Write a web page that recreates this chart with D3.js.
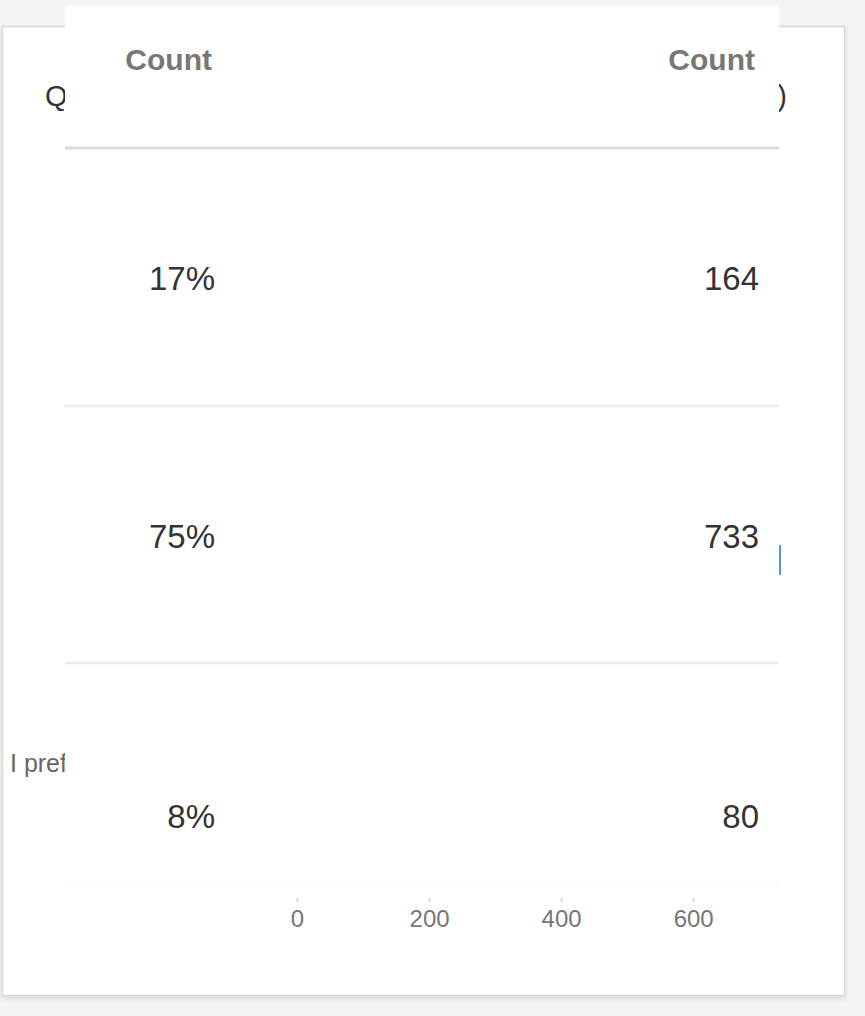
<!DOCTYPE html>
<html>
<head>
<meta charset="utf-8">
<script src="https://cdn.jsdelivr.net/npm/d3@7"></script>
<style>
  html, body { margin: 0; padding: 0; background: #f3f3f3; }
  svg { display: block; font-family: "Liberation Sans", Arial, Helvetica, sans-serif; }
</style>
</head>
<body>
<svg id="chart" width="865" height="1016"></svg>
<script>
// ---- data ----
const categories = ["Yes", "No", "I prefer not to say"];
const counts = [164, 733, 80];
const xTicks = [0, 200, 400, 600];
const headerLabels = ["Count", "Count"];
const titleText = "Q2. Would you recommend this service? (n=977)";

const total = d3.sum(counts);
const pctLabels = counts.map(c => Math.round(c / total * 100) + "%");

const svg = d3.select("#chart");
const W = 865, H = 1016;

// background
svg.append("rect").attr("width", W).attr("height", H).attr("fill", "#f3f3f3");

// card shadow
const defs = svg.append("defs");
const f = defs.append("filter").attr("id", "shadow").attr("x", "-5%").attr("y", "-5%").attr("width", "110%").attr("height", "110%");
f.append("feDropShadow").attr("dx", 0).attr("dy", 2).attr("stdDeviation", 2).attr("flood-color", "#000").attr("flood-opacity", 0.12);

svg.append("rect")
  .attr("x", 2.5).attr("y", 26.5).attr("width", 842).attr("height", 969)
  .attr("fill", "#fff").attr("stroke", "#d8d8d8").attr("stroke-width", 1.5)
  .attr("filter", "url(#shadow)");

// title
svg.append("text")
  .attr("x", 45).attr("y", 106)
  .attr("font-size", 29).attr("fill", "#333")
  .attr("textLength", 742).attr("lengthAdjust", "spacing")
  .text(titleText);

// scales
const x = d3.scaleLinear().domain([0, d3.max(counts)]).range([297, 781]);
const y = d3.scalePoint().domain(categories).range([252.5, 867.5]).padding(0.5);
const barH = 30;

// category labels (long labels wrap from the left edge, short ones sit by the axis)
const labels = svg.append("g").selectAll("text").data(categories).join("text")
  .attr("font-size", 25).attr("fill", "#666")
  .attr("y", d => y(d) + 7)
  .text(d => d);
labels.each(function() {
  const t = d3.select(this);
  const w = this.getComputedTextLength();
  if (w > 120) t.attr("x", 10).attr("text-anchor", "start");
  else t.attr("x", 285).attr("text-anchor", "end");
});

// bars
svg.append("g").selectAll("rect").data(categories).join("rect")
  .attr("x", x(0))
  .attr("y", d => y(d) - barH / 2)
  .attr("width", (d, i) => x(counts[i]) - x(0))
  .attr("height", barH)
  .attr("fill", "#5b8fd6");

// x axis
const axis = svg.append("g").attr("transform", "translate(0,898)")
  .call(d3.axisBottom(x).tickValues(xTicks).tickSize(4).tickPadding(8).tickFormat(d3.format("d")));
axis.select(".domain").remove();
axis.selectAll(".tick line").attr("stroke", "#d6d6d6").attr("stroke-width", 2);
axis.selectAll(".tick text").attr("font-size", 24).attr("fill", "#777")
  .attr("font-family", "'Liberation Sans', Arial, sans-serif");

// ---- table overlay ----
const ov = svg.append("g");
ov.append("rect").attr("x", 65).attr("y", 6).attr("width", 714).attr("height", 878).attr("fill", "#fff");
ov.append("line").attr("x1", 65).attr("x2", 779).attr("y1", 884).attr("y2", 884)
  .attr("stroke", "#f9f9f9").attr("stroke-width", 1.5);

// header
ov.append("text").attr("x", 212).attr("y", 70).attr("text-anchor", "end")
  .attr("font-size", 30).attr("font-weight", "bold").attr("fill", "#777").text(headerLabels[0]);
ov.append("text").attr("x", 755).attr("y", 70).attr("text-anchor", "end")
  .attr("font-size", 30).attr("font-weight", "bold").attr("fill", "#777").text(headerLabels[1]);

// separators
const sepY = [148, 406, 663];
ov.selectAll("line.sep").data(sepY).join("line").attr("class", "sep")
  .attr("x1", 65).attr("x2", 779)
  .attr("y1", d => d).attr("y2", d => d)
  .attr("stroke", (d, i) => i === 0 ? "#dcdcdc" : "#ececec")
  .attr("stroke-width", (d, i) => i === 0 ? 3 : 2.5);

// rows
const rowBase = [290, 548, 828];
ov.selectAll("text.pct").data(pctLabels).join("text").attr("class", "pct")
  .attr("x", 215).attr("y", (d, i) => rowBase[i]).attr("text-anchor", "end")
  .attr("font-size", 33).attr("fill", "#333").text(d => d);
ov.selectAll("text.cnt").data(counts).join("text").attr("class", "cnt")
  .attr("x", 759).attr("y", (d, i) => rowBase[i]).attr("text-anchor", "end")
  .attr("font-size", 33).attr("fill", "#333").text(d => d);
</script>
</body>
</html>
